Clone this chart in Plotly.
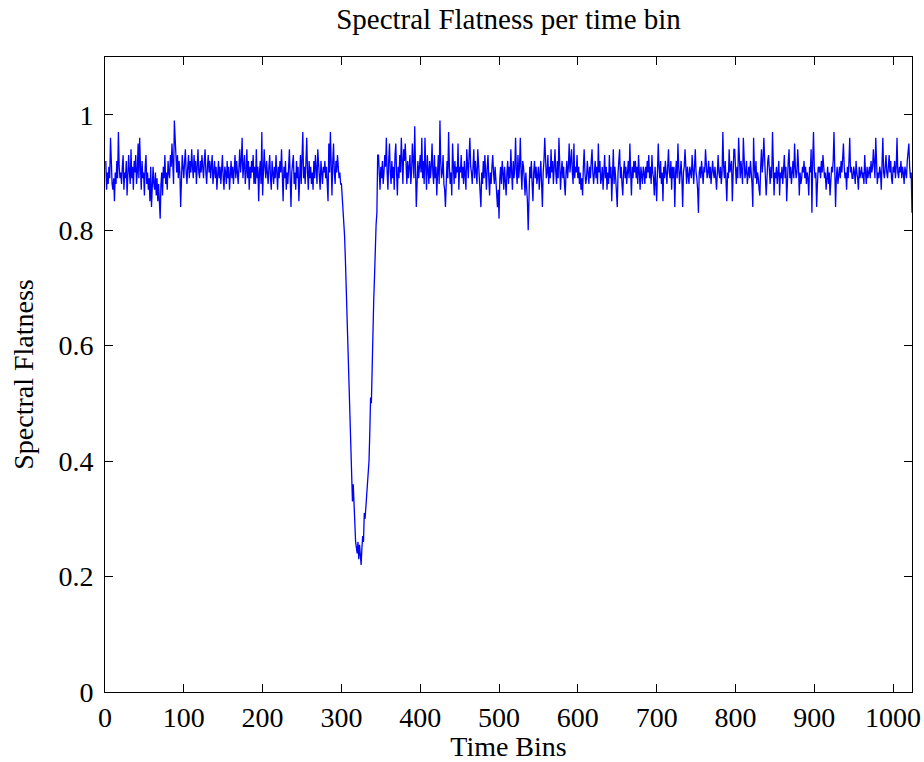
import plotly.graph_objects as go

# Spectral flatness per time bin: steady background, then a deep dip around bin 300-346
flat_before = [
    0.92, 0.87, 0.90, 0.88, 0.91, 0.89, 0.96, 0.90, 0.88, 0.87, 0.89, 0.85, 0.90, 0.88, 0.92, 0.89, 0.97, 0.91, 0.89, 0.90,
    0.88, 0.91, 0.93, 0.87, 0.90, 0.89, 0.92, 0.86, 0.91, 0.93, 0.90, 0.88, 0.94, 0.89, 0.91, 0.87, 0.92, 0.90, 0.93, 0.88,
    0.90, 0.95, 0.89, 0.96, 0.91, 0.87, 0.92, 0.89, 0.90, 0.86, 0.91, 0.93, 0.88, 0.90, 0.87, 0.89, 0.85, 0.91, 0.84, 0.89,
    0.91, 0.88, 0.87, 0.90, 0.86, 0.89, 0.85, 0.88, 0.83, 0.82, 0.88, 0.90, 0.86, 0.91, 0.89, 0.93, 0.88, 0.90, 0.87, 0.92,
    0.90, 0.89, 0.93, 0.91, 0.95, 0.92, 0.88, 0.99, 0.95, 0.91, 0.90, 0.93, 0.89, 0.92, 0.90, 0.84, 0.88, 0.93, 0.91, 0.89,
    0.92, 0.94, 0.90, 0.88, 0.91, 0.93, 0.89, 0.92, 0.90, 0.94, 0.91, 0.89, 0.93, 0.90, 0.92, 0.88, 0.91, 0.94, 0.90, 0.89,
    0.92, 0.90, 0.93, 0.91, 0.89, 0.92, 0.94, 0.90, 0.88, 0.91, 0.93, 0.90, 0.92, 0.89, 0.91, 0.93, 0.88, 0.90, 0.92, 0.89,
    0.91, 0.87, 0.90, 0.92, 0.89, 0.91, 0.88, 0.90, 0.93, 0.89, 0.87, 0.91, 0.90, 0.88, 0.92, 0.89, 0.91, 0.87, 0.90, 0.92,
    0.89, 0.91, 0.88, 0.90, 0.93, 0.89, 0.92, 0.90, 0.88, 0.91, 0.94, 0.90, 0.92, 0.96, 0.89, 0.91, 0.93, 0.88, 0.90, 0.94,
    0.89, 0.92, 0.87, 0.91, 0.89, 0.92, 0.90, 0.93, 0.88, 0.91, 0.88, 0.94, 0.89, 0.91, 0.85, 0.90, 0.92, 0.88, 0.97, 0.86,
    0.90, 0.94, 0.91, 0.89, 0.92, 0.90, 0.88, 0.91, 0.93, 0.89, 0.87, 0.92, 0.90, 0.88, 0.91, 0.89, 0.93, 0.90, 0.87, 0.91,
    0.89, 0.92, 0.90, 0.94, 0.88, 0.85, 0.91, 0.89, 0.92, 0.87, 0.90, 0.88, 0.91, 0.94, 0.89, 0.84, 0.90, 0.92, 0.93, 0.88,
    0.90, 0.87, 0.92, 0.89, 0.91, 0.85, 0.90, 0.93, 0.88, 0.92, 0.97, 0.89, 0.91, 0.88, 0.93, 0.96, 0.90, 0.87, 0.92, 0.89,
    0.91, 0.88, 0.90, 0.87, 0.92, 0.89, 0.93, 0.90, 0.88, 0.94, 0.91, 0.89, 0.87, 0.92, 0.90, 0.88, 0.91, 0.90, 0.92, 0.89,
    0.91, 0.88, 0.85, 0.95, 0.90, 0.97, 0.89, 0.86, 0.92, 0.95, 0.90, 0.88, 0.92, 0.90, 0.93, 0.91, 0.89, 0.90, 0.88,
]

flat_dip = [
    0.88, 0.86, 0.83, 0.82, 0.79, 0.75, 0.70, 0.66, 0.61, 0.55,
    0.49, 0.44, 0.39, 0.36, 0.33, 0.36, 0.32, 0.28, 0.26, 0.25,
    0.24, 0.26, 0.23, 0.255, 0.24, 0.22, 0.25, 0.27, 0.26, 0.31,
    0.30, 0.32, 0.34, 0.37, 0.385, 0.40, 0.45, 0.51, 0.50, 0.58,
    0.64, 0.68, 0.72, 0.78, 0.81, 0.83, 0.93,
]

flat_after = [
    0.93, 0.90, 0.87, 0.91, 0.89, 0.92, 0.88, 0.90, 0.93, 0.91, 0.96, 0.90, 0.87, 0.92,
    0.95, 0.90, 0.88, 0.92, 0.89, 0.91, 0.87, 0.93, 0.95, 0.90, 0.86, 0.91, 0.89, 0.93, 0.90, 0.96, 0.91, 0.88, 0.94, 0.92,
    0.95, 0.90, 0.88, 0.92, 0.89, 0.91, 0.93, 0.88, 0.90, 0.95, 0.92, 0.89, 0.98, 0.90, 0.84, 0.88, 0.92, 0.89, 0.91, 0.93,
    0.90, 0.96, 0.89, 0.92, 0.88, 0.96, 0.91, 0.87, 0.93, 0.90, 0.88, 0.92, 0.89, 0.91, 0.95, 0.90, 0.88, 0.93, 0.89, 0.91,
    0.86, 0.90, 0.93, 0.88, 0.99, 0.92, 0.89, 0.90, 0.93, 0.88, 0.87, 0.84, 0.90, 0.92, 0.89, 0.97, 0.91, 0.88, 0.90, 0.86,
    0.95, 0.90, 0.88, 0.92, 0.89, 0.91, 0.90, 0.95, 0.87, 0.91, 0.90, 0.93, 0.89, 0.91, 0.88, 0.92, 0.90, 0.87, 0.94, 0.91,
    0.89, 0.93, 0.96, 0.91, 0.90, 0.88, 0.91, 0.94, 0.89, 0.92, 0.90, 0.88, 0.94, 0.91, 0.89, 0.87, 0.84, 0.90, 0.88, 0.92,
    0.89, 0.93, 0.90, 0.87, 0.91, 0.93, 0.89, 0.86, 0.90, 0.88, 0.91, 0.93, 0.90, 0.88, 0.91, 0.89, 0.86, 0.84, 0.87, 0.82,
    0.89, 0.91, 0.88, 0.92, 0.90, 0.87, 0.91, 0.89, 0.86, 0.90, 0.92, 0.88, 0.91, 0.89, 0.94, 0.90, 0.87, 0.92, 0.89, 0.91,
    0.96, 0.90, 0.88, 0.93, 0.89, 0.91, 0.96, 0.90, 0.87, 0.92, 0.91, 0.89, 0.86, 0.90, 0.88, 0.85, 0.80, 0.87, 0.91, 0.89,
    0.92, 0.88, 0.85, 0.90, 0.92, 0.89, 0.91, 0.88, 0.90, 0.91, 0.87, 0.89, 0.92, 0.88, 0.84, 0.90, 0.92, 0.96, 0.91, 0.89,
    0.90, 0.93, 0.88, 0.91, 0.89, 0.94, 0.90, 0.92, 0.88, 0.91, 0.94, 0.90, 0.88, 0.92, 0.89, 0.96, 0.91, 0.87, 0.90, 0.92,
    0.89, 0.91, 0.88, 0.86, 0.90, 0.92, 0.89, 0.91, 0.95, 0.90, 0.92, 0.94, 0.90, 0.88, 0.95, 0.89, 0.91, 0.90, 0.93, 0.89,
    0.91, 0.88, 0.90, 0.87, 0.89, 0.86, 0.91, 0.94, 0.90, 0.88, 0.89, 0.92, 0.90, 0.88, 0.91, 0.89, 0.92, 0.94, 0.90, 0.88,
    0.90, 0.92, 0.89, 0.91, 0.88, 0.95, 0.90, 0.92, 0.88, 0.89, 0.91, 0.87, 0.90, 0.93, 0.89, 0.91, 0.87, 0.90, 0.88, 0.93,
    0.89, 0.91, 0.85, 0.90, 0.94, 0.88, 0.91, 0.89, 0.86, 0.84, 0.90, 0.92, 0.94, 0.89, 0.91, 0.88, 0.86, 0.90, 0.92, 0.89,
    0.91, 0.88, 0.90, 0.92, 0.89, 0.95, 0.90, 0.86, 0.91, 0.89, 0.92, 0.90, 0.92, 0.89, 0.91, 0.88, 0.93, 0.90, 0.87, 0.91,
    0.89, 0.88, 0.91, 0.90, 0.88, 0.91, 0.89, 0.92, 0.90, 0.93, 0.89, 0.91, 0.88, 0.93, 0.90, 0.89, 0.86, 0.91, 0.88, 0.85,
    0.90, 0.95, 0.91, 0.89, 0.92, 0.88, 0.90, 0.85, 0.91, 0.89, 0.92, 0.90, 0.88, 0.91, 0.94, 0.90, 0.89, 0.92, 0.87, 0.91,
    0.89, 0.91, 0.84, 0.90, 0.92, 0.89, 0.95, 0.91, 0.88, 0.90, 0.92, 0.89, 0.84, 0.90, 0.91, 0.94, 0.90, 0.88, 0.91, 0.89,
    0.88, 0.91, 0.90, 0.89, 0.93, 0.90, 0.88, 0.91, 0.94, 0.90, 0.89, 0.87, 0.83, 0.90, 0.91, 0.89, 0.92, 0.90, 0.88, 0.91,
    0.90, 0.94, 0.91, 0.89, 0.90, 0.92, 0.89, 0.91, 0.88, 0.90, 0.92, 0.90, 0.89, 0.91, 0.88, 0.87, 0.90, 0.93, 0.90, 0.89,
    0.91, 0.88, 0.90, 0.97, 0.91, 0.89, 0.92, 0.88, 0.85, 0.90, 0.89, 0.94, 0.90, 0.91, 0.92, 0.85, 0.90, 0.94, 0.94, 0.90,
    0.88, 0.91, 0.89, 0.96, 0.90, 0.89, 0.92, 0.90, 0.88, 0.96, 0.91, 0.89, 0.90, 0.92, 0.88, 0.90, 0.91, 0.89, 0.92, 0.90,
    0.88, 0.84, 0.96, 0.91, 0.89, 0.92, 0.88, 0.90, 0.89, 0.87, 0.86, 0.91, 0.94, 0.90, 0.92, 0.96, 0.91, 0.89, 0.86, 0.90,
    0.92, 0.93, 0.90, 0.88, 0.91, 0.89, 0.97, 0.92, 0.86, 0.90, 0.89, 0.91, 0.88, 0.90, 0.92, 0.86, 0.90, 0.89, 0.91, 0.88,
    0.90, 0.93, 0.89, 0.91, 0.85, 0.90, 0.92, 0.94, 0.89, 0.91, 0.88, 0.90, 0.92, 0.89, 0.95, 0.91, 0.89, 0.90, 0.94, 0.91,
    0.86, 0.90, 0.88, 0.89, 0.91, 0.90, 0.92, 0.89, 0.91, 0.88, 0.90, 0.89, 0.86, 0.91, 0.90, 0.94, 0.83, 0.92, 0.97, 0.91,
    0.89, 0.90, 0.84, 0.88, 0.91, 0.90, 0.91, 0.89, 0.92, 0.90, 0.93, 0.91, 0.89, 0.90, 0.87, 0.89, 0.91, 0.88, 0.90, 0.86,
    0.89, 0.91, 0.90, 0.92, 0.97, 0.90, 0.84, 0.89, 0.91, 0.88, 0.90, 0.91, 0.89, 0.92, 0.90, 0.93, 0.95, 0.91, 0.89, 0.90,
    0.87, 0.91, 0.89, 0.92, 0.96, 0.90, 0.91, 0.89, 0.89, 0.91, 0.90, 0.88, 0.92, 0.90, 0.89, 0.87, 0.91, 0.89, 0.90, 0.91,
    0.89, 0.90, 0.88, 0.93, 0.90, 0.88, 0.91, 0.89, 0.90, 0.91, 0.89, 0.92, 0.90, 0.91, 0.94, 0.90, 0.89, 0.96, 0.91, 0.88,
    0.90, 0.89, 0.91, 0.90, 0.87, 0.91, 0.96, 0.90, 0.89, 0.91, 0.93, 0.90, 0.89, 0.91, 0.93, 0.90, 0.92, 0.89, 0.88, 0.91,
    0.90, 0.92, 0.89, 0.91, 0.96, 0.90, 0.89, 0.91, 0.90, 0.92, 0.89, 0.91, 0.90, 0.88, 0.91, 0.90, 0.89, 0.92, 0.94, 0.95,
    0.91, 0.89, 0.90, 0.83,
]

flatness = flat_before + flat_dip + flat_after
time_bins = list(range(1, len(flatness) + 1))

x_ticks = [0, 100, 200, 300, 400, 500, 600, 700, 800, 900, 1000]
y_ticks = [0, 0.2, 0.4, 0.6, 0.8, 1.0]
y_tick_labels = ["0", "0.2", "0.4", "0.6", "0.8", "1"]

SERIF = "Liberation Serif, Times New Roman, serif"
TEXT_SIZE = 28

fig = go.Figure(
    go.Scatter(
        x=time_bins,
        y=flatness,
        mode="lines",
        line=dict(color="#0000ff", width=1.3),
        hoverinfo="x+y",
    )
)

axis_common = dict(
    showline=True,
    linecolor="black",
    linewidth=1,
    mirror="allticks",
    ticks="inside",
    ticklen=8,
    tickwidth=1,
    tickcolor="black",
    showgrid=False,
    zeroline=False,
    automargin=False,
    tickfont=dict(family=SERIF, size=TEXT_SIZE, color="black"),
)

fig.update_layout(
    width=924,
    height=762,
    paper_bgcolor="white",
    plot_bgcolor="white",
    margin=dict(l=105, r=12, t=57, b=70, autoexpand=False),
    showlegend=False,
    title=dict(
        text="Spectral Flatness per time bin",
        x=0.5,
        xref="paper",
        xanchor="center",
        y=1 - 19 / 762,
        yref="container",
        yanchor="middle",
        automargin=False,
        font=dict(family=SERIF, size=29, color="black"),
    ),
    xaxis=dict(
        range=[0, 1024],
        tickvals=x_ticks,
        ticklabelstandoff=0,
        title=dict(text="Time Bins", standoff=4,
                   font=dict(family=SERIF, size=TEXT_SIZE, color="black")),
        **axis_common,
    ),
    yaxis=dict(
        range=[0, 1.1],
        tickvals=y_ticks,
        ticktext=y_tick_labels,
        ticklabelstandoff=5,
        title=dict(text="Spectral Flatness", standoff=16,
                   font=dict(family=SERIF, size=TEXT_SIZE, color="black")),
        **axis_common,
    ),
)

fig.write_html("out.html")
